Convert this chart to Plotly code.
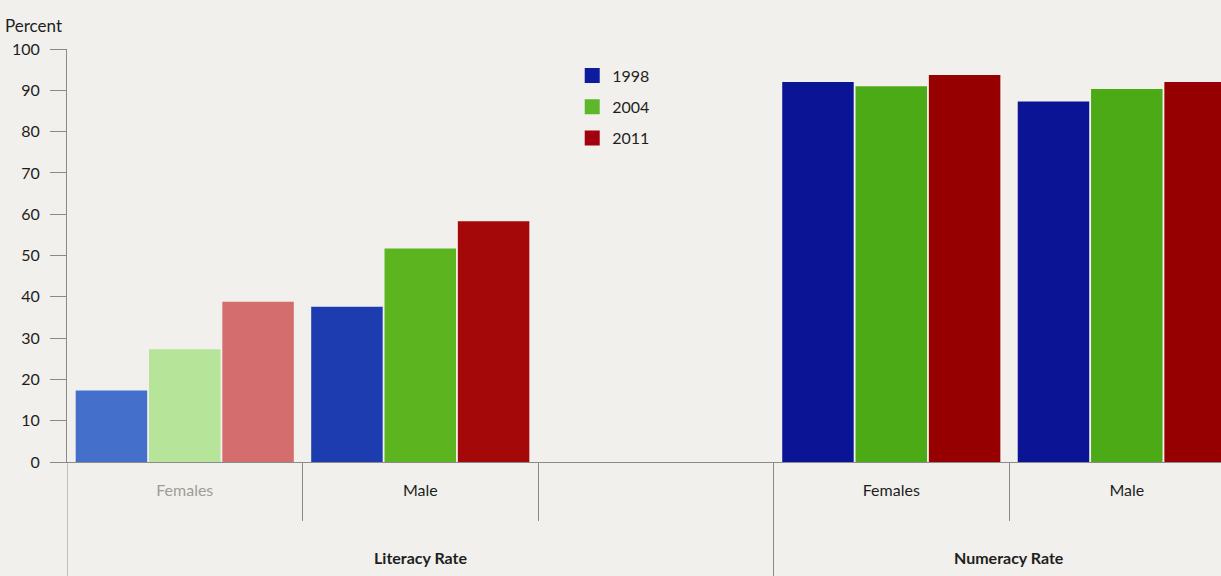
import plotly.graph_objects as go

# ---- data ----
groups = ["Literacy Rate", "Literacy Rate", "Literacy Rate", "Numeracy Rate", "Numeracy Rate"]
categories = ["Females", "Male", "", "Females", "Male"]
years = ["1998", "2004", "2011"]
v1998 = [17.3, 37.6, None, 92.0, 87.3]
v2004 = [27.3, 51.7, None, 91.0, 90.3]
v2011 = [38.8, 58.3, None, 93.7, 92.0]
y_ticks = [0, 10, 20, 30, 40, 50, 60, 70, 80, 90, 100]

# ---- styles ----
bar_colors = {
    "1998": ["#4470cc", "#1c3cb0", "#1c3cb0", "#0c1496", "#0c1496"],
    "2004": ["#b6e59a", "#5cb41e", "#5cb41e", "#4caa16", "#4caa16"],
    "2011": ["#d46e6e", "#a50808", "#a50808", "#960000", "#960000"],
}
legend_colors = {"1998": "#0c1c9c", "2004": "#5cb82a", "2011": "#a00010"}
BG = "#f1f0ec"
AX = "#8a8a8a"
TXT = "#1e1e1e"
FONT = "Lato"
FS = 16

W, H = 1221, 576
ML, MR, MT, MB = 67, 0, 49, 114
plot_h = H - MT - MB

x = list(range(len(categories)))
series = {"1998": v1998, "2004": v2004, "2011": v2011}

fig = go.Figure()
for yr in years:
    fig.add_trace(go.Bar(
        x=x, y=series[yr], name=yr, showlegend=False, offsetgroup=yr,
        marker=dict(color=bar_colors[yr], line=dict(width=0)),
    ))
# legend entries (no data, share offset group with the real series)
for yr in years:
    fig.add_trace(go.Bar(
        x=[None], y=[None], name=yr, legendgroup=yr, offsetgroup=yr,
        marker=dict(color=legend_colors[yr], line=dict(color=legend_colors[yr], width=3)),
    ))

ticktext = []
for i, c in enumerate(categories):
    if i == 0:
        ticktext.append('<span style="color:#a09c99">%s</span>' % c)
    else:
        ticktext.append(c)

boundaries = [i + 0.5 for i in range(len(categories) - 1)]
group_starts = [i - 0.5 for i in range(len(categories)) if i == 0 or groups[i] != groups[i - 1]]
short_bounds = [b for b in boundaries if b not in group_starts]

fig.update_layout(
    width=W, height=H,
    margin=dict(l=ML, r=MR, t=MT, b=MB, pad=0),
    paper_bgcolor=BG, plot_bgcolor=BG,
    barmode="group", bargap=0.066, bargroupgap=0.025,
    font=dict(family=FONT, size=FS, color=TXT),
    legend=dict(x=0.4378, y=0.977, xanchor="left", yanchor="top",
                bgcolor="rgba(0,0,0,0)", font=dict(size=FS, color=TXT),
                tracegroupgap=7.5, traceorder="grouped"),
    showlegend=True,
)
fig.update_yaxes(
    range=[0, 100], tickvals=y_ticks, showgrid=False, zeroline=False,
    showline=True, linecolor=AX, linewidth=1,
    ticks="outside", ticklen=16, tickcolor=AX, tickwidth=1,
    tickfont=dict(size=FS, color=TXT), ticklabelstandoff=7,
)
fig.update_xaxes(
    range=[-0.5, 4.40], tickvals=x, ticktext=ticktext,
    showgrid=False, zeroline=False, showline=True, linecolor=AX, linewidth=1,
    ticks="", tickfont=dict(size=FS, color=TXT), ticklabelstandoff=14,
    minor=dict(tickvals=short_bounds, ticks="outside", ticklen=58, tickcolor=AX, tickwidth=1),
)

# long dividers between outer groups (and axis extension)
for b in group_starts:
    fig.add_shape(type="line", xref="x", yref="paper", x0=b, x1=b,
                  y0=0, y1=-MB / plot_h, line=dict(color=AX, width=1))

# outer group labels
seen = []
for g in groups:
    if g in seen:
        continue
    seen.append(g)
    idx = [i for i, gg in enumerate(groups) if gg == g]
    fig.add_annotation(x=sum(idx) / len(idx), y=-95 / plot_h, xref="x", yref="paper",
                       text="<b>%s</b>" % g, showarrow=False, yanchor="middle",
                       font=dict(size=FS, color=TXT))

fig.add_annotation(x=-64 / (W - ML - MR), y=(plot_h + MT - 25) / plot_h, xref="paper", yref="paper",
                   text="Percent", showarrow=False, xanchor="left", yanchor="middle",
                   font=dict(size=17, color=TXT))

post = ("document.body.style.margin='0';document.body.style.padding='0';"
        "document.body.style.background='%s';document.body.style.overflow='hidden';" % BG)
fig.write_html("out.html", post_script=post, config={"displayModeBar": False})
